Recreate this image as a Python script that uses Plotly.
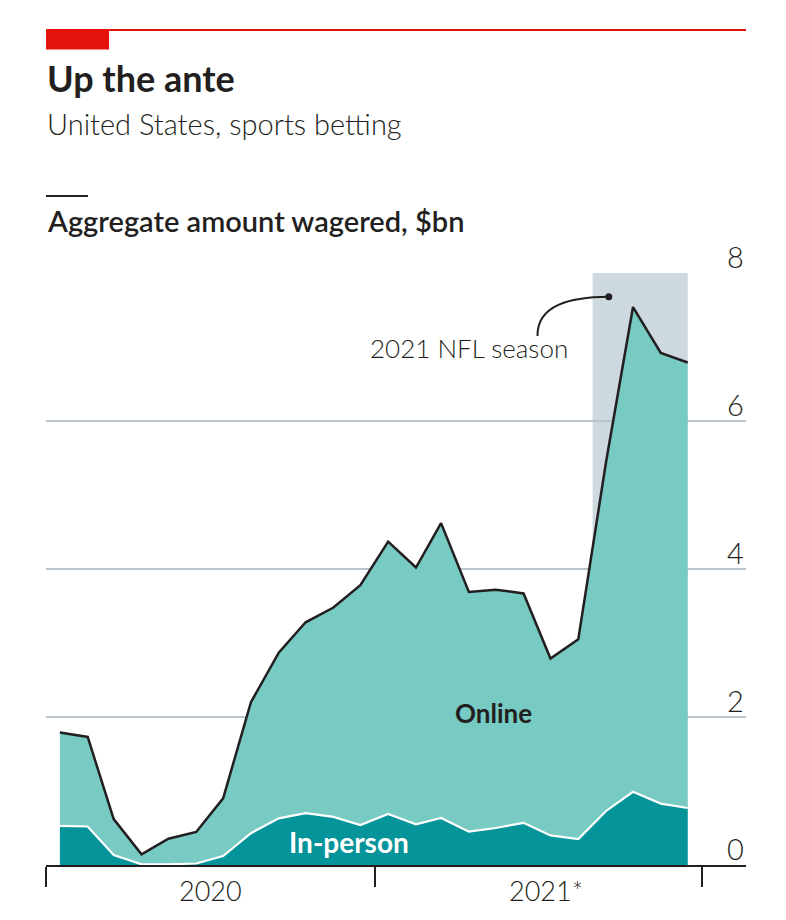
import plotly.graph_objects as go

# ---- data ----
months = ["2020-01-16", "2020-02-16", "2020-03-16", "2020-04-16", "2020-05-16", "2020-06-16",
          "2020-07-16", "2020-08-16", "2020-09-16", "2020-10-16", "2020-11-16", "2020-12-16",
          "2021-01-16", "2021-02-16", "2021-03-16", "2021-04-16", "2021-05-16", "2021-06-16",
          "2021-07-16", "2021-08-16", "2021-09-16", "2021-10-16", "2021-11-16", "2021-12-16"]
in_person = [0.53, 0.52, 0.135, 0.01, 0.01, 0.02, 0.12, 0.43, 0.63, 0.70, 0.65, 0.54,
             0.69, 0.55, 0.635, 0.45, 0.50, 0.57, 0.40, 0.35, 0.73, 0.99, 0.83, 0.77]
online = [1.26, 1.21, 0.485, 0.135, 0.345, 0.426, 0.78, 1.77, 2.24, 2.58, 2.83, 3.24,
          3.68, 3.47, 3.985, 3.24, 3.22, 3.10, 2.39, 2.70, 4.72, 6.55, 6.09, 6.02]
y_ticks = [0, 2, 4, 6, 8]
year_ticks = ["2020-01-01", "2021-01-01", "2022-01-01"]
year_labels = ["2020", "2021*"]
year_label_pos = ["2020-07-02", "2021-07-02"]
nfl_season = ["2021-09-01", "2021-12-16"]

FONT = "Lato"
DARK = "#231f20"
L, R, T, B = 46, 40, 273, 55
W, H = 786, 920
PW, PH = W - L - R, H - T - B


def px(x):
    return (x - L) / PW


def py(y):
    return (H - B - y) / PH


fig = go.Figure()
fig.add_trace(go.Scatter(x=months, y=in_person, stackgroup="s", mode="lines",
                         line=dict(color="white", width=2.2), fillcolor="#05949a",
                         hoverinfo="skip", name="In-person"))
fig.add_trace(go.Scatter(x=months, y=online, stackgroup="s", mode="lines",
                         line=dict(color=DARK, width=2.5), fillcolor="#77cbc3",
                         hoverinfo="skip", name="Online"))

shapes = [
    # NFL season shading
    dict(type="rect", xref="x", yref="y", x0=nfl_season[0], x1=nfl_season[1], y0=0, y1=8,
         fillcolor="#cdd8df", line=dict(width=0), layer="below"),
    # top red rule and tab
    dict(type="line", xref="paper", yref="paper", x0=px(46), x1=px(746), y0=py(30), y1=py(30),
         line=dict(color="#e3120b", width=2)),
    dict(type="rect", xref="paper", yref="paper", x0=px(46), x1=px(109), y0=py(49.5), y1=py(29),
         fillcolor="#e3120b", line=dict(width=0)),
    # short dark rule above the axis title
    dict(type="line", xref="paper", yref="paper", x0=px(46), x1=px(88), y0=py(196), y1=py(196),
         line=dict(color=DARK, width=2)),
    # annotation leader curve and dot
    dict(type="path", xref="paper", yref="paper",
         path=f"M {px(609)},{py(296.7)} C {px(570)},{py(297)} {px(537)},{py(305)} {px(537.5)},{py(336)}",
         line=dict(color=DARK, width=2)),
    dict(type="circle", xref="paper", yref="paper", x0=px(605.3), x1=px(612.3), y0=py(300.2), y1=py(293.2),
         fillcolor=DARK, line=dict(width=0)),
]

annotations = [
    dict(text="<b>Up the ante</b>", xref="paper", yref="paper", x=px(45), y=py(78),
         xanchor="left", yanchor="middle", showarrow=False,
         font=dict(family=FONT, size=36, color=DARK)),
    dict(text="United States, sports betting", xref="paper", yref="paper", x=px(45), y=py(124),
         xanchor="left", yanchor="middle", showarrow=False,
         font=dict(family=FONT, size=29, color=DARK, weight=300)),
    dict(text="Aggregate amount wagered, $bn", xref="paper", yref="paper", x=px(45), y=py(221),
         xanchor="left", yanchor="middle", showarrow=False,
         font=dict(family=FONT, size=29, color=DARK, weight=600)),
    dict(text="2021 NFL season", xref="paper", yref="paper", x=px(570), y=py(348),
         xanchor="right", yanchor="middle", showarrow=False,
         font=dict(family=FONT, size=26, color=DARK, weight=300)),
    dict(text="<b>Online</b>", xref="x", yref="y", x="2021-05-13", y=2.05,
         xanchor="center", yanchor="middle", showarrow=False,
         font=dict(family=FONT, size=26, color=DARK)),
    dict(text="<b>In-person</b>", xref="x", yref="y", x="2020-12-03", y=0.31,
         xanchor="center", yanchor="middle", showarrow=False,
         font=dict(family=FONT, size=28, color="white")),
]
for v in y_ticks:
    annotations.append(dict(text=str(v), xref="paper", yref="y", x=1, y=v, yshift=17,
                            xanchor="right", yanchor="middle", showarrow=False,
                            font=dict(family=FONT, size=29, color=DARK, weight=300)))
for lab, pos in zip(year_labels, year_label_pos):
    annotations.append(dict(text=lab, xref="x", yref="paper", x=pos, y=0, yshift=-25,
                            xshift=8 if "*" in lab else 0,
                            xanchor="center", yanchor="middle", showarrow=False,
                            font=dict(family=FONT, size=27, color=DARK, weight=300)))

fig.update_layout(
    width=W, height=H, margin=dict(l=L, r=R, t=T, b=B),
    paper_bgcolor="white", plot_bgcolor="white", showlegend=False,
    shapes=shapes, annotations=annotations,
    xaxis=dict(type="date", range=["2019-12-31 12:00", "2022-02-19"], showgrid=False, zeroline=False,
               showline=True, linecolor=DARK, linewidth=2, tickvals=year_ticks,
               ticktext=["" for _ in year_ticks], ticks="outside", ticklen=20, tickwidth=2,
               tickcolor=DARK, fixedrange=True),
    yaxis=dict(range=[0, 8], tickvals=y_ticks, showticklabels=False, showgrid=True,
               gridcolor="#b8c4cc", gridwidth=2, zeroline=False, showline=False, fixedrange=True),
)

fig.write_html("out.html")
